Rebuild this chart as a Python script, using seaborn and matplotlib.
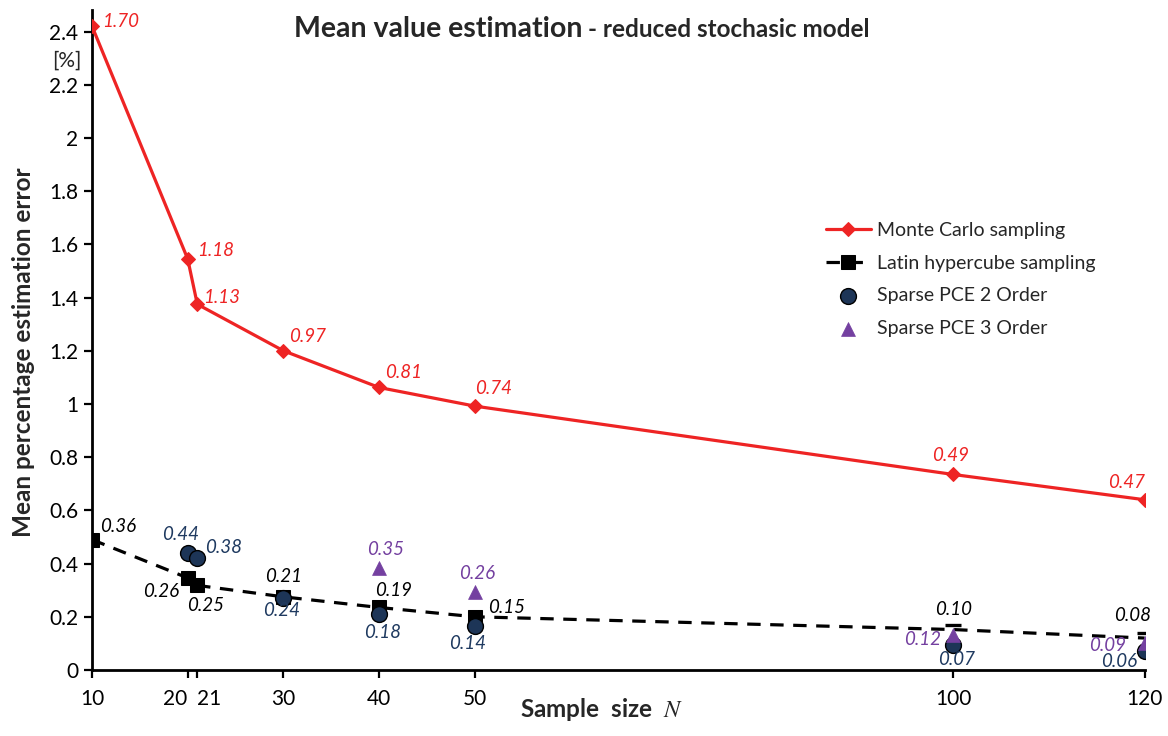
import matplotlib
matplotlib.use("Agg")
import matplotlib.pyplot as plt
from matplotlib.ticker import FixedLocator, FuncFormatter
import seaborn as sns
import pandas as pd

# Sample sizes
n_mc = [10, 20, 21, 30, 40, 50, 100, 120]
n_lhs = [10, 20, 21, 30, 40, 50, 100, 120]
n_pce2 = [20, 21, 30, 40, 50, 100, 120]
n_pce3 = [40, 50, 100, 120]
n_lhs_bar = [100, 120]

# Mean percentage estimation error [%]
err_mc = [2.42, 1.545, 1.375, 1.20, 1.062, 0.992, 0.735, 0.640]
err_lhs = [0.490, 0.346, 0.318, 0.275, 0.235, 0.200, 0.152, 0.120]
err_pce2 = [0.438, 0.422, 0.272, 0.210, 0.166, 0.094, 0.070]
err_pce3 = [0.384, 0.294, 0.130, 0.102]
err_lhs_bar = [0.168, 0.139]

# Annotated values next to each point
lab_mc = ["1.70", "1.18", "1.13", "0.97", "0.81", "0.74", "0.49", "0.47"]
lab_lhs = ["0.36", "0.26", "0.25", "0.21", "0.19", "0.15", "0.10", "0.08"]
lab_pce2 = ["0.44", "0.38", "0.24", "0.18", "0.14", "0.07", "0.06"]
lab_pce3 = ["0.35", "0.26", "0.12", "0.09"]

x_ticks = [10, 20, 21, 30, 40, 50, 100, 120]
y_ticks = [0, 0.2, 0.4, 0.6, 0.8, 1.0, 1.2, 1.4, 1.6, 1.8, 2.0, 2.2, 2.4]

RED = "#EE2424"
NAVY = "#1D3557"
NAVY_TXT = "#1F3A60"
PURPLE = "#7440A0"

sns.set_style("ticks")
plt.rcParams["font.family"] = ["Lato", "DejaVu Sans"]
plt.rcParams["mathtext.fontset"] = "stix"

df_mc = pd.DataFrame({"N": n_mc, "err": err_mc})
df_lhs = pd.DataFrame({"N": n_lhs, "err": err_lhs})
df_bar = pd.DataFrame({"N": n_lhs_bar, "err": err_lhs_bar})
df_p2 = pd.DataFrame({"N": n_pce2, "err": err_pce2})
df_p3 = pd.DataFrame({"N": n_pce3, "err": err_pce3})

fig = plt.figure(figsize=(11.68, 7.36), dpi=100)
ax = fig.add_axes([0.0788, 0.0897, 0.9012, 0.8963])

sns.lineplot(data=df_mc, x="N", y="err", ax=ax, color=RED, linewidth=2.3,
             marker="D", markersize=7, markeredgecolor=RED,
             label="Monte Carlo sampling", zorder=5)
# square markers on the small-N points, short bars for the large-N points
n_squares = int((df_lhs["N"] < min(n_lhs_bar)).sum())
sns.lineplot(data=df_lhs, x="N", y="err", ax=ax, color="black", linewidth=2.3,
             linestyle=(0, (4.2, 3.0)), marker="s", markersize=10,
             markevery=list(range(n_squares)),
             markeredgecolor="black", label="Latin hypercube sampling", zorder=3)
ax.plot(df_bar["N"], df_bar["err"], linestyle="none",
        marker="_", markersize=12, markeredgewidth=2.4, color="black", zorder=4)
sns.scatterplot(data=df_p2, x="N", y="err", ax=ax, color=NAVY, s=130,
                marker="o", edgecolor="black", linewidth=1.0,
                label="Sparse PCE 2 Order", zorder=6)
sns.scatterplot(data=df_p3, x="N", y="err", ax=ax, color=PURPLE, s=100,
                marker="^", edgecolor=PURPLE, linewidth=0.5,
                label="Sparse PCE 3 Order", zorder=7)

# value annotations (offsets in pixels, alignment)
off_mc = [(10, 5, "left"), (9, 9, "left"), (6, 7, "left"), (6, 14, "left"),
          (6, 15, "left"), (0, 18, "left"), (-3, 19, "center"), (0, 17, "right")]
off_lhs = [(8, 13, "left"), (-9, -14, "right"), (-10, -20, "left"), (0, 20, "center"),
           (-4, 17, "left"), (13, 9, "left"), (0, 20, "center"), (-12, 23, "center")]
off_p2 = [(-7, 19, "center"), (8, 10, "left"), (-2, -13, "center"), (3, -18, "center"),
          (-7, -18, "center"), (3, -15, "center"), (-7, -10, "right")]
off_p3 = [(6, 18, "center"), (2, 18, "center"), (-12, -4, "right"), (-19, -3, "right")]


def annotate(xs, ys, labels, offsets, color):
    for x, y, t, (dx, dy, ha) in zip(xs, ys, labels, offsets):
        ax.annotate(t, (x, y), xytext=(dx, dy), textcoords="offset pixels",
                    ha=ha, va="center", fontsize=13.5, fontstyle="italic",
                    color=color, zorder=10)


annotate(n_mc, err_mc, lab_mc, off_mc, RED)
annotate(n_lhs, err_lhs, lab_lhs, off_lhs, "black")
annotate(n_pce2, err_pce2, lab_pce2, off_p2, NAVY_TXT)
annotate(n_pce3, err_pce3, lab_pce3, off_p3, PURPLE)

ax.set_xlim(10, 120)
ax.set_ylim(0, 2.48)
ax.xaxis.set_major_locator(FixedLocator(x_ticks))
ax.yaxis.set_major_locator(FixedLocator(y_ticks))
ax.yaxis.set_major_formatter(FuncFormatter(lambda v, p: f"{v:g}"))
ax.tick_params(axis="both", direction="out", length=6, width=1.6,
               labelsize=15, colors="black", pad=4)
ax.tick_params(axis="x", pad=8)
# the two close ticks (20, 21) get their labels pushed apart
for lbl, val in zip(ax.get_xticklabels(), x_ticks):
    if val == 20:
        lbl.set_horizontalalignment("right")
    elif val == 21:
        lbl.set_horizontalalignment("left")
for side in ("top", "right"):
    ax.spines[side].set_visible(False)
for side in ("left", "bottom"):
    ax.spines[side].set_linewidth(2.0)
    ax.spines[side].set_color("black")
ax.set_xlabel("")
ax.set_ylabel("")

fig.text(0.0205, 0.522, "Mean percentage estimation error", rotation=90,
         ha="center", va="center", fontsize=17.5, fontweight="bold")
fig.text(601 / 1168, (736 - 717) / 736, r"Sample  size  $\mathit{N}$",
         ha="center", va="baseline", fontsize=17.5, fontweight="bold")
fig.text(67 / 1168, (736 - 61) / 736, "[%]", ha="center", va="center", fontsize=15)

fig.text(583 / 1168, (736 - 37) / 736, "Mean value estimation", ha="right",
         va="baseline", fontsize=20.5, fontweight="bold")
fig.text(588 / 1168, (736 - 37) / 736, "- reduced stochasic model", ha="left",
         va="baseline", fontsize=17.5, fontweight="bold")

leg = ax.legend(loc="upper left", bbox_to_anchor=(826 / 1168, (736 - 222) / 736),
                bbox_transform=fig.transFigure, frameon=False, fontsize=14,
                borderpad=0, borderaxespad=0, labelspacing=0.8,
                handlelength=2.3, handletextpad=0.3)

fig.savefig("out.png", dpi=100)
